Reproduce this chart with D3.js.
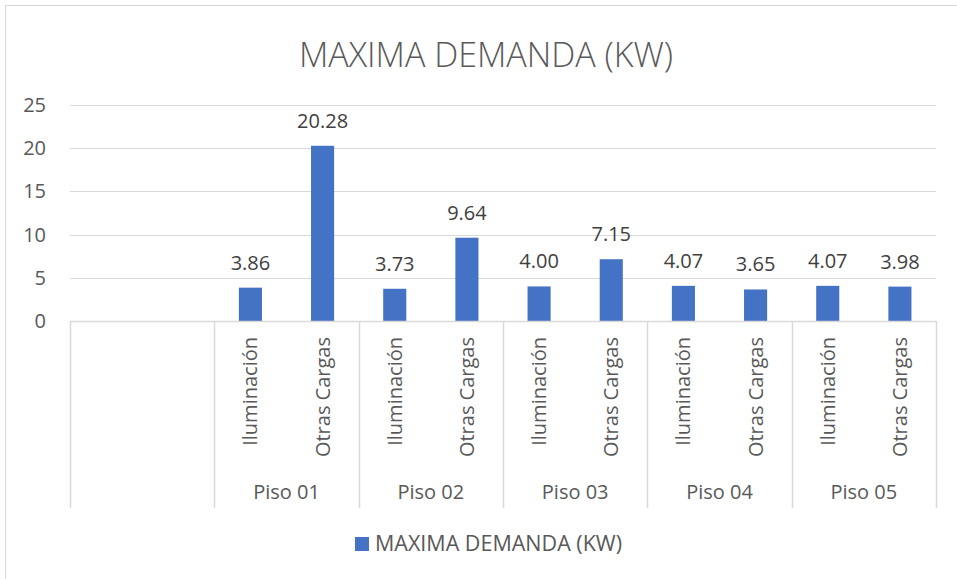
<!DOCTYPE html>
<html>
<head>
<meta charset="utf-8">
<script src="https://cdn.jsdelivr.net/npm/d3@7"></script>
<style>
  body { margin: 0; background: #fff; }
  text { font-family: "Open Sans", sans-serif; }
</style>
</head>
<body>
<div id="chart"></div>
<script>
// datos
const pisos = ["", "Piso 01", "Piso 02", "Piso 03", "Piso 04", "Piso 05"];
const cargas = ["Iluminación", "Otras Cargas"];
const valores = [
  [null, null],
  [3.86, 20.28],
  [3.73, 9.64],
  [4.00, 7.15],
  [4.07, 3.65],
  [4.07, 3.98]
];
const yTicks = [0, 5, 10, 15, 20, 25];
const serie = "MAXIMA DEMANDA (KW)";

const W = 957, H = 579;
const mLeft = 70, mRight = 936, mTop = 105, mBottom = 321;

const svg = d3.select("#chart").append("svg")
  .attr("width", W).attr("height", H);

// borde
svg.append("rect")
  .attr("x", 5.5).attr("y", 5.5)
  .attr("width", W + 10).attr("height", H + 10)
  .attr("fill", "#fff").attr("stroke", "#d9d9d9");

// título
svg.append("text")
  .attr("x", 486).attr("y", 67)
  .attr("text-anchor", "middle")
  .attr("font-size", 34)
  .attr("font-weight", 300)
  .attr("fill", "#595959")
  .text(serie);

// filas planas
const filas = [];
pisos.forEach((p, i) => cargas.forEach((c, j) => {
  filas.push({ key: i + "-" + j, piso: p, carga: c, valor: valores[i][j] });
}));

const x = d3.scaleBand().domain(filas.map(d => d.key)).range([mLeft, mRight]);
const xg = d3.scaleBand().domain(pisos.map((p, i) => i)).range([mLeft, mRight]);
const y = d3.scaleLinear().domain([0, 25]).range([mBottom, mTop]);

// grilla
svg.append("g").selectAll("line")
  .data(yTicks)
  .join("line")
  .attr("x1", mLeft).attr("x2", mRight)
  .attr("y1", d => Math.round(y(d)) + 0.5).attr("y2", d => Math.round(y(d)) + 0.5)
  .attr("stroke", "#d9d9d9").attr("stroke-width", 1);

// eje y
const yAxis = d3.axisLeft(y).tickValues(yTicks).tickSize(0).tickPadding(0);
const gy = svg.append("g")
  .attr("transform", `translate(${mLeft - 24},0)`)
  .call(yAxis);
gy.select(".domain").remove();
gy.selectAll("text")
  .attr("font-size", 20)
  .attr("font-family", "Open Sans, sans-serif")
  .attr("fill", "#595959");

// separadores de pisos
const bordes = pisos.map((p, i) => xg(i)).concat([mRight]);
svg.append("g").selectAll("line")
  .data(bordes)
  .join("line")
  .attr("x1", d => Math.round(d) + 0.5).attr("x2", d => Math.round(d) + 0.5)
  .attr("y1", mBottom).attr("y2", 508)
  .attr("stroke", "#d9d9d9").attr("stroke-width", 1.5);

// barras
const conValor = filas.filter(d => d.valor != null);
const bw = x.bandwidth() * 0.32;
svg.append("g").selectAll("rect")
  .data(conValor)
  .join("rect")
  .attr("x", d => x(d.key) + x.bandwidth() / 2 - bw / 2)
  .attr("y", d => y(d.valor))
  .attr("width", bw)
  .attr("height", d => y(0) - y(d.valor))
  .attr("fill", "#4472c4");

// etiquetas de datos
svg.append("g").selectAll("text")
  .data(conValor)
  .join("text")
  .attr("x", d => x(d.key) + x.bandwidth() / 2)
  .attr("y", d => y(d.valor) - 18)
  .attr("text-anchor", "middle")
  .attr("font-size", 20)
  .attr("fill", "#404040")
  .text(d => d.valor.toFixed(2));

// etiquetas de carga (rotadas)
svg.append("g").selectAll("text")
  .data(filas.filter(d => d.piso !== ""))
  .join("text")
  .attr("transform", d => `translate(${x(d.key) + x.bandwidth() / 2},337) rotate(-90)`)
  .attr("dy", "0.35em")
  .attr("text-anchor", "end")
  .attr("font-size", 20)
  .attr("fill", "#595959")
  .text(d => d.carga);

// etiquetas de piso
svg.append("g").selectAll("text")
  .data(pisos.map((p, i) => ({ p, i })).filter(d => d.p !== ""))
  .join("text")
  .attr("x", d => xg(d.i) + xg.bandwidth() / 2)
  .attr("y", 499)
  .attr("text-anchor", "middle")
  .attr("font-size", 20)
  .attr("fill", "#595959")
  .text(d => d.p);

// eje x
svg.append("line")
  .attr("x1", mLeft).attr("x2", mRight)
  .attr("y1", mBottom + 0.5).attr("y2", mBottom + 0.5)
  .attr("stroke", "#d9d9d9").attr("stroke-width", 1.5);

// leyenda
svg.append("rect")
  .attr("x", 355).attr("y", 537)
  .attr("width", 14).attr("height", 14)
  .attr("fill", "#4472c4");
svg.append("text")
  .attr("x", 375).attr("y", 551)
  .attr("font-size", 21.5)
  .attr("fill", "#595959")
  .text(serie);
</script>
</body>
</html>
